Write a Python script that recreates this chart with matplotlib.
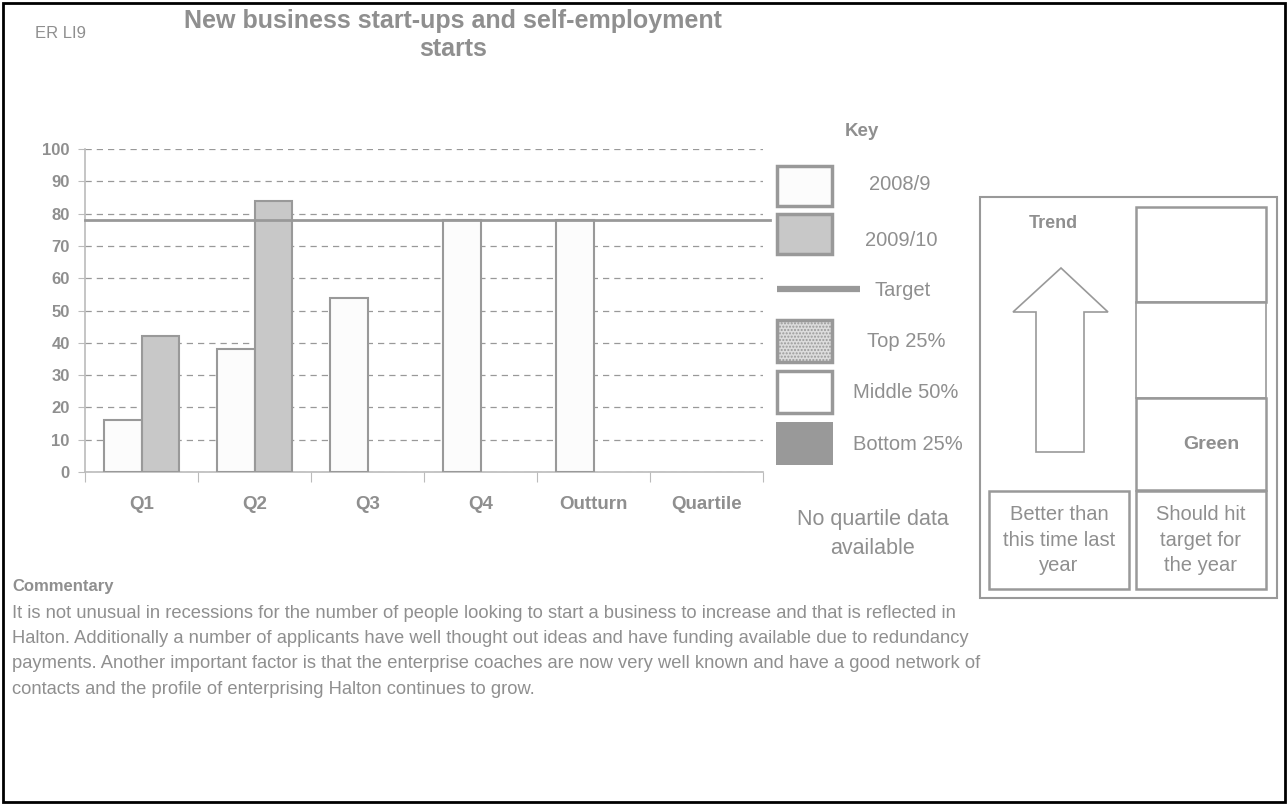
import numpy as np
import matplotlib
matplotlib.use("Agg")
import matplotlib.pyplot as plt
from matplotlib.patches import Rectangle, Polygon

plt.rcParams['font.family'] = ['Liberation Sans', 'DejaVu Sans']

categories = ['Q1', 'Q2', 'Q3', 'Q4', 'Outturn', 'Quartile']
values_2008_9 = [16, 38, 54, 78, 78, np.nan]
values_2009_10 = [42, 84, np.nan, np.nan, np.nan, np.nan]
target = 78
yticks = [0, 10, 20, 30, 40, 50, 60, 70, 80, 90, 100]

GRAY = '#999999'
TXT = '#8f8f8f'

W, H = 1288, 805
fig = plt.figure(figsize=(W / 100, H / 100), dpi=100)

# overlay axes in pixel coordinates
ov = fig.add_axes([0, 0, 1, 1])
ov.set_xlim(0, W)
ov.set_ylim(H, 0)
ov.axis('off')

# outer border
ov.add_patch(Rectangle((3, 3), W - 6, H - 6, fill=False, ec='black', lw=2))

ov.text(35, 33, 'ER LI9', fontsize=12, color=TXT, ha='left', va='center')
ov.text(453, 35, 'New business start-ups and self-employment\nstarts', fontsize=18,
        color=TXT, ha='center', va='center', fontweight='bold', linespacing=1.2)

# bar chart
ax = fig.add_axes([85 / W, 1 - 472 / H, (763 - 85) / W, (472 - 149) / H])
x = np.arange(len(categories))
bw = 0.335
ax.bar(x - bw / 2, values_2008_9, bw, color='#fcfcfc', edgecolor=GRAY, lw=1.5, zorder=3)
ax.bar(x + bw / 2, values_2009_10, bw, color='#c8c8c8', edgecolor=GRAY, lw=1.5, zorder=3)
ax.plot([-0.5, 5.56], [target, target], color=GRAY, lw=2, zorder=4, clip_on=False)
ax.set_xlim(-0.5, 5.5)
ax.set_ylim(0, 100)
ax.set_yticks(yticks)
ax.yaxis.grid(True, color=GRAY, lw=0.9, linestyle=(0, (5, 4)), zorder=1)
ax.set_axisbelow(True)
ax.set_xticks(np.arange(-0.5, 6.0, 1.0))
ax.set_xticklabels([])
ax.set_xticks(x, minor=True)
ax.set_xticklabels(categories, minor=True)
ax.tick_params(axis='x', which='minor', length=0, pad=17, labelsize=13.5, labelcolor=TXT)
ax.tick_params(axis='x', which='major', length=7, color='#bbbbbb', direction='out')
ax.tick_params(axis='y', length=5, color='#bbbbbb', labelsize=12, labelcolor=TXT, pad=6)
for lbl in ax.get_xticklabels(minor=True) + ax.get_yticklabels():
    lbl.set_fontweight('bold')
for s in ['top', 'right']:
    ax.spines[s].set_visible(False)
ax.spines['left'].set_color('#bbbbbb')
ax.spines['bottom'].set_color('#bbbbbb')
ax.spines['left'].set_linewidth(1.2)
ax.spines['bottom'].set_linewidth(1.2)

# key
KFS = 14.5
ov.text(862, 131, 'Key', fontsize=13.5, color=TXT, ha='center', va='center', fontweight='bold')
ov.add_patch(Rectangle((777, 166), 55, 40, fc='#fcfcfc', ec=GRAY, lw=2.5))
ov.text(900, 185, '2008/9', fontsize=KFS, color=TXT, ha='center', va='center')
ov.add_patch(Rectangle((777, 214), 55, 40, fc='#c8c8c8', ec=GRAY, lw=2.5))
ov.text(901, 240, '2009/10', fontsize=KFS, color=TXT, ha='center', va='center')
ov.plot([777, 860], [289, 289], color=GRAY, lw=4.5, solid_capstyle='butt')
ov.text(903, 290, 'Target', fontsize=KFS, color=TXT, ha='center', va='center')
ov.add_patch(Rectangle((777, 320), 55, 42, fc='#dcdcdc', ec=GRAY, lw=2.5, hatch='.....'))
ov.text(906, 341, 'Top 25%', fontsize=KFS, color=TXT, ha='center', va='center')
ov.add_patch(Rectangle((777, 371), 55, 42, fc='white', ec=GRAY, lw=2.5))
ov.text(906, 392, 'Middle 50%', fontsize=KFS, color=TXT, ha='center', va='center')
ov.add_patch(Rectangle((776, 422), 57, 43, fc='#999999', ec='#999999', lw=0))
ov.text(908, 444, 'Bottom 25%', fontsize=KFS, color=TXT, ha='center', va='center')
ov.text(873, 534, 'No quartile data\navailable', fontsize=15.5, color=TXT, ha='center',
        va='center', linespacing=1.55)

# right panel
ov.add_patch(Rectangle((980, 197), 297, 401, fill=False, ec=GRAY, lw=1.5))
ov.text(1053, 223, 'Trend', fontsize=13, color=TXT, ha='center', va='center', fontweight='bold')
arrow = Polygon([(1061, 268), (1108, 312), (1084, 312), (1084, 452), (1036, 452),
                 (1036, 312), (1013, 312)], closed=True, fc='white', ec=GRAY, lw=1.2)
ov.add_patch(arrow)
ov.add_patch(Rectangle((1136, 207), 130, 95, fill=False, ec=GRAY, lw=1.8))
ov.add_patch(Rectangle((1136, 302), 130, 96, fill=False, ec=GRAY, lw=1.2))
ov.add_patch(Rectangle((1136, 398), 130, 92, fill=False, ec=GRAY, lw=1.8))
ov.text(1211, 444, 'Green', fontsize=14, color=TXT, ha='center', va='center', fontweight='bold')
ov.add_patch(Rectangle((989, 491), 140, 98, fill=False, ec=GRAY, lw=1.8))
ov.text(1059, 540, 'Better than\nthis time last\nyear', fontsize=14.5, color=TXT, ha='center',
        va='center', linespacing=1.45)
ov.add_patch(Rectangle((1136, 491), 130, 98, fill=False, ec=GRAY, lw=1.8))
ov.text(1201, 540, 'Should hit\ntarget for\nthe year', fontsize=14.5, color=TXT, ha='center',
        va='center', linespacing=1.45)

# commentary
ov.text(12, 586, 'Commentary', fontsize=12, color=TXT, ha='left', va='center', fontweight='bold')
comment = ("It is not unusual in recessions for the number of people looking to start a business to increase and that is reflected in\n"
           "Halton. Additionally a number of applicants have well thought out ideas and have funding available due to redundancy\n"
           "payments. Another important factor is that the enterprise coaches are now very well known and have a good network of\n"
           "contacts and the profile of enterprising Halton continues to grow.")
ov.text(12, 605, comment, fontsize=13.2, color=TXT, ha='left', va='top', linespacing=1.63)

fig.savefig('out.png', dpi=100)
